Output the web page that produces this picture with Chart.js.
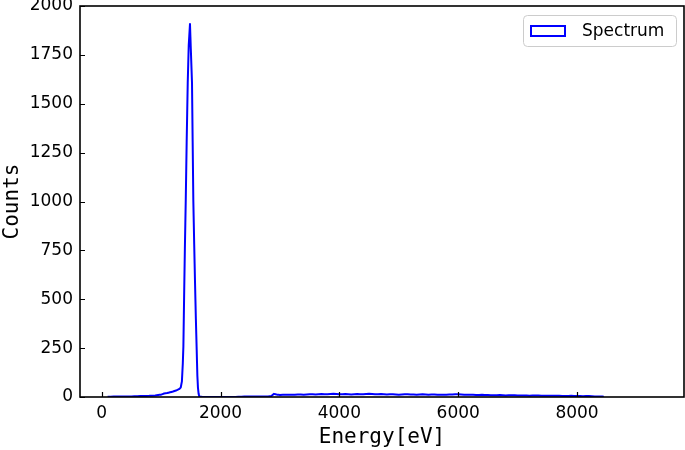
<!DOCTYPE html>
<html>
<head>
<meta charset="utf-8">
<script src="https://cdn.jsdelivr.net/npm/chart.js@4/dist/chart.umd.min.js"></script>
<style>
  html, body { margin: 0; padding: 0; background: #fff; }
  #wrap { width: 685px; height: 450px; position: relative; }
</style>
</head>
<body>
<div id="wrap"><canvas id="spectrum-chart"></canvas></div>
<script>
// --- dados ---
const energy = [
  100, 200, 300, 400, 500, 600, 700, 800, 900, 950,
  1000, 1050, 1100, 1150, 1200, 1250, 1300, 1330, 1350, 1365,
  1375, 1390, 1400, 1415, 1430, 1448, 1465, 1486, 1500, 1520,
  1542, 1557, 1571, 1585, 1599, 1610, 1620, 1632, 1645, 1700,
  2200, 2300, 2400, 2500, 2600, 2700, 2800, 2850, 2900, 2950,
  3000, 3100, 3200, 3300, 3400, 3500, 3600, 3700, 3800, 3900,
  4000, 4100, 4200, 4300, 4400, 4500, 4600, 4700, 4800, 4900,
  5000, 5100, 5200, 5300, 5400, 5500, 5600, 5700, 5800, 5900,
  6000, 6100, 6200, 6300, 6400, 6500, 6600, 6700, 6800, 6900,
  7000, 7100, 7200, 7300, 7400, 7500, 7600, 7700, 7800, 7900,
  8000, 8100, 8200, 8300, 8400, 8450
];
const counts = [
  1, 2, 2, 3, 3, 4, 5, 6, 8, 10,
  12, 18, 20, 24, 28, 33, 40, 48, 80, 170,
  260, 570, 760, 1010, 1300, 1606, 1800, 1908, 1780, 1606,
  1008, 780, 583, 400, 240, 110, 48, 15, 2, 0,
  0, 1, 2, 2, 2, 3, 3, 4, 16, 12,
  10, 12, 11, 13, 12, 14, 13, 15, 14, 16,
  14, 15, 13, 15, 14, 16, 14, 15, 13, 14,
  12, 14, 13, 12, 14, 12, 13, 11, 12, 13,
  14, 11, 12, 10, 11, 10, 9, 10, 8, 9,
  8, 8, 7, 8, 7, 6, 7, 6, 5, 6,
  5, 4, 5, 3, 3, 1
];
const xTicks = [0, 2000, 4000, 6000, 8000];
const yTicks = [0, 250, 500, 750, 1000, 1250, 1500, 1750, 2000];
const seriesLabel = 'Spectrum';

const tickFont = { family: 'DejaVu Sans', size: 17 };
const titleFont = { family: 'DejaVu Sans Mono', size: 21 };

// moldura + ticks para dentro (estilo matplotlib)
const framePlugin = {
  id: 'frame',
  afterDraw: (chart) => {
    const { ctx, chartArea: a, scales } = chart;
    ctx.save();
    ctx.strokeStyle = '#000';
    ctx.lineWidth = 1.2;
    ctx.beginPath();
    scales.x.ticks.forEach(t => {
      const px = Math.round(scales.x.getPixelForValue(t.value)) + 0.5;
      ctx.moveTo(px, a.bottom);
      ctx.lineTo(px, a.bottom - 5);
    });
    scales.y.ticks.forEach(t => {
      const py = Math.round(scales.y.getPixelForValue(t.value)) + 0.5;
      ctx.moveTo(a.left, py);
      ctx.lineTo(a.left + 5, py);
    });
    ctx.stroke();
    ctx.lineWidth = 1.6;
    ctx.strokeRect(a.left, a.top, a.right - a.left, a.bottom - a.top);
    ctx.restore();
  }
};

// legenda dentro da área do gráfico
const legendPlugin = {
  id: 'boxLegend',
  afterDraw: (chart) => {
    const { ctx, chartArea: a } = chart;
    const w = 153, h = 31;
    const x = a.right - 8 - w, y = a.top + 9;
    ctx.save();
    ctx.beginPath();
    ctx.roundRect(x + 0.5, y + 0.5, w, h, 4);
    ctx.fillStyle = 'rgba(255,255,255,0.8)';
    ctx.fill();
    ctx.strokeStyle = '#cccccc';
    ctx.lineWidth = 1;
    ctx.stroke();
    ctx.strokeStyle = '#0000ff';
    ctx.lineWidth = 2;
    ctx.strokeRect(x + 8, y + 11, 34, 10);
    ctx.fillStyle = '#000';
    ctx.font = '17px "DejaVu Sans"';
    ctx.textBaseline = 'middle';
    ctx.fillText(chart.data.datasets[0].label, x + 59, y + 16.5);
    ctx.restore();
  }
};

const ctx = document.getElementById('spectrum-chart').getContext('2d');
new Chart(ctx, {
  type: 'line',
  data: {
    datasets: [{
      label: seriesLabel,
      data: energy.map((e, i) => ({ x: e, y: counts[i] })),
      borderColor: '#0000ff',
      borderWidth: 2,
      borderJoinStyle: 'round',
      pointRadius: 0,
      tension: 0.0001, // evita o "fast path" que cria entalhes no pico
      fill: false
    }]
  },
  options: {
    responsive: true,
    maintainAspectRatio: false,
    animation: false,
    layout: { padding: { top: 6, right: 1, left: 0, bottom: 0 } },
    plugins: { legend: { display: false }, tooltip: { enabled: false } },
    scales: {
      x: {
        type: 'linear',
        min: -365,
        max: 9800,
        afterBuildTicks: (s) => { s.ticks = xTicks.map(v => ({ value: v })); },
        afterFit: (s) => { s.height = 53; s.paddingLeft = 0; s.paddingRight = 0; },
        grid: { display: false, drawTicks: false },
        border: { display: false },
        ticks: { font: tickFont, color: '#000', padding: 6, maxRotation: 0, callback: (v) => String(v) },
        title: { display: true, text: 'Energy[eV]', font: titleFont, color: '#000', padding: 0 }
      },
      y: {
        type: 'linear',
        min: 0,
        max: 2000,
        afterBuildTicks: (s) => { s.ticks = yTicks.map(v => ({ value: v })); },
        afterFit: (s) => { s.width = 80; s.paddingTop = 0; s.paddingBottom = 0; },
        grid: { display: false, drawTicks: false },
        border: { display: false },
        ticks: { font: tickFont, color: '#000', padding: 7, callback: (v) => String(v) },
        title: { display: true, text: 'Counts', font: titleFont, color: '#000', padding: 0 }
      }
    }
  },
  plugins: [framePlugin, legendPlugin]
});
</script>
</body>
</html>
